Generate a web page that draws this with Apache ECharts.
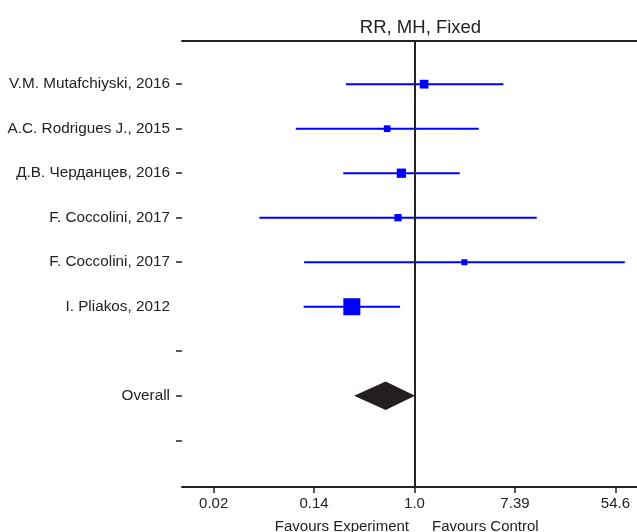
<!DOCTYPE html>
<html>
<head>
<meta charset="utf-8">
<script src="https://cdn.jsdelivr.net/npm/echarts@6/dist/echarts.min.js"></script>
<style>html,body{margin:0;padding:0;background:#fff;}#chart{width:637px;height:532px;}</style>
</head>
<body>
<div id="chart"></div>
<script>
// ---- Data (risk ratios) ----
var studies = ['V.M. Mutafchiyski, 2016', 'A.C. Rodrigues J., 2015', 'Д.В. Черданцев, 2016', 'F. Coccolini, 2017', 'F. Coccolini, 2017', 'I. Pliakos, 2012'];
var rr      = [1.21, 0.58, 0.77, 0.72, 2.70, 0.287];
var ciLow   = [0.255, 0.094, 0.242, 0.0455, 0.111, 0.110];
var ciHigh  = [5.87, 3.59, 2.46, 11.4, 65.8, 0.75];
var weights = [13.0, 7.7, 14.7, 9.1, 6.2, 49.3];   // % weight
var overallLabel = 'Overall';
var overallRR = 0.563, overallLow = 0.30, overallHigh = 1.01;
var rowLabels = ['V.M. Mutafchiyski, 2016', 'A.C. Rodrigues J., 2015', 'Д.В. Черданцев, 2016', 'F. Coccolini, 2017', 'F. Coccolini, 2017', 'I. Pliakos, 2012', '', 'Overall', ''];
var xTickValues = [-4, -2, 0, 2, 4];            // ln(RR)
var xTickLabels = ['0.02', '0.14', '1.0', '7.39', '54.6'];
var titleText = 'RR, MH, Fixed';
var leftNote = 'Favours Experiment', rightNote = 'Favours Control';

// ---- Build ----
var FONT = "'Liberation Sans', Arial, sans-serif";
var TXT = '#222';
var studyData = studies.map(function (s, i) {
  return [Math.log(ciLow[i]), Math.log(ciHigh[i]), Math.log(rr[i]), i + 1, weights[i]];
});
var overallRow = rowLabels.indexOf(overallLabel) + 1;
var overallData = [[Math.log(overallLow), Math.log(overallHigh), Math.log(overallRR), overallRow]];
var yLabelVals = rowLabels.map(function (l, i) { return i + 1; });
var yTickVals = yLabelVals.filter(function (v) { return rowLabels[v - 1] !== 'I. Pliakos, 2012'; });

var chart = echarts.init(document.getElementById('chart'), null, { renderer: 'canvas' });
chart.setOption({
  backgroundColor: '#fff',
  animation: false,
  textStyle: { fontFamily: FONT },
  title: [
    { text: titleText, left: 415.5, top: 13, textAlign: 'center',
      textStyle: { fontFamily: FONT, fontSize: 18.5, fontWeight: 'normal', color: TXT } },
    { text: leftNote, left: 404, top: 514, textAlign: 'right',
      textStyle: { fontFamily: FONT, fontSize: 15, fontWeight: 'normal', color: TXT } },
    { text: rightNote, left: 427, top: 514, textAlign: 'left',
      textStyle: { fontFamily: FONT, fontSize: 15, fontWeight: 'normal', color: TXT } }
  ],
  grid: { left: 182, right: 0, top: 41, bottom: 45, containLabel: false },
  xAxis: [
    { type: 'value', position: 'bottom', min: -4.63, max: 4.43,
      axisLine: { show: true, onZero: false, lineStyle: { color: TXT, width: 2 } },
      axisTick: { show: true, customValues: xTickValues, length: 6, lineStyle: { color: TXT, width: 1.5 } },
      axisLabel: { show: true, customValues: xTickValues, margin: 9, fontSize: 15, color: TXT, fontFamily: FONT,
        formatter: function (v) { var k = xTickValues.indexOf(v); return k >= 0 ? xTickLabels[k] : ''; } },
      splitLine: { show: false } },
    { type: 'value', position: 'top', min: -4.63, max: 4.43,
      axisLine: { show: true, onZero: false, lineStyle: { color: TXT, width: 2 } },
      axisTick: { show: false }, axisLabel: { show: false }, splitLine: { show: false } }
  ],
  yAxis: {
    type: 'value', inverse: true, min: 0.03, max: 10.05, position: 'left',
    axisLine: { show: false, onZero: false },
    axisTick: { show: true, customValues: yTickVals, length: 6, lineStyle: { color: TXT, width: 1.5 } },
    axisLabel: { show: true, customValues: yLabelVals, margin: 12, fontSize: 15.3, color: TXT, fontFamily: FONT,
      formatter: function (v) { var k = Math.round(v) - 1; return rowLabels[k] || ''; } },
    splitLine: { show: false }
  },
  series: [
    {
      type: 'custom', name: 'studies', z: 2,
      renderItem: function (params, api) {
        var a = api.coord([api.value(0), api.value(3)]);
        var b = api.coord([api.value(1), api.value(3)]);
        var p = api.coord([api.value(2), api.value(3)]);
        var s = Math.sqrt(api.value(4)) * 2.42;
        return { type: 'group', children: [
          { type: 'line', shape: { x1: a[0], y1: a[1], x2: b[0], y2: b[1] }, style: { stroke: '#0000ff', lineWidth: 2 } },
          { type: 'rect', shape: { x: p[0] - s / 2, y: p[1] - s / 2, width: s, height: s }, style: { fill: '#0000ff' } }
        ] };
      },
      encode: { x: [0, 1, 2], y: 3 },
      data: studyData
    },
    {
      type: 'custom', name: 'overall', z: 2,
      renderItem: function (params, api) {
        var a = api.coord([api.value(0), api.value(3)]);
        var b = api.coord([api.value(1), api.value(3)]);
        var p = api.coord([api.value(2), api.value(3)]);
        var h = 14.3;
        return { type: 'polygon', shape: { points: [[a[0], a[1]], [p[0], p[1] - h], [b[0], b[1]], [p[0], p[1] + h]] },
          style: { fill: '#231f20' } };
      },
      encode: { x: [0, 1, 2], y: 3 },
      data: overallData
    },
    {
      type: 'line', name: 'ref', data: [], z: 5,
      markLine: { silent: true, symbol: ['none', 'none'], label: { show: false }, z: 5,
        lineStyle: { color: TXT, width: 2, type: 'solid' },
        data: [{ xAxis: 0 }] }
    }
  ]
});
</script>
</body>
</html>
